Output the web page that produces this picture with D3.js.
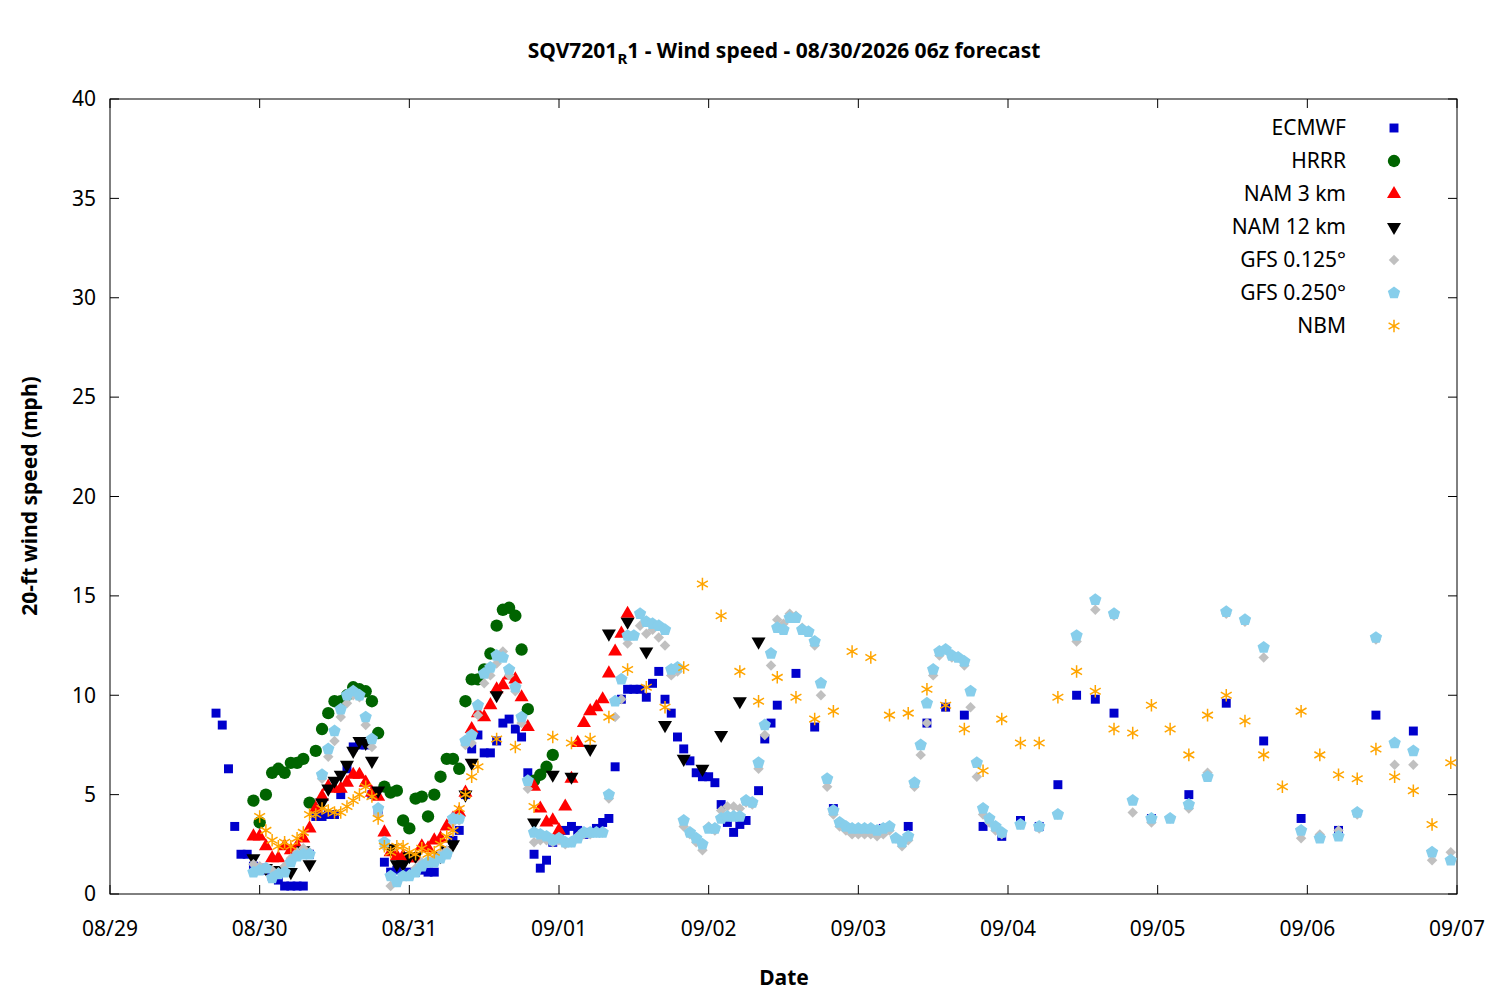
<!DOCTYPE html>
<html>
<head>
<meta charset="utf-8">
<script src="https://cdn.jsdelivr.net/npm/d3@7"></script>
<style>
  body { margin: 0; background: #fff; }
  text { font-family: "Noto Sans", "Open Sans", sans-serif; }
</style>
</head>
<body>
<svg id="chart" width="1500" height="1000"></svg>
<script>
// [hours after 08/29 00z, mph]
const ecmwf = [[17,9.1],[18,8.5],[19,6.3],[20,3.4],[21,2.0],[22,2.0],[23,1.4],[24,1.3],[25,1.2],[26,0.9],[27,0.7],[28,0.4],[29,0.4],[30,0.4],[31,0.4],[32,2.0],[33,3.9],[34,3.9],[35,4.0],[36,4.0],[37,5.0],[38,6.3],[39,7.4],[40,7.5],[41,7.5],[42,5.0],[43,4.2],[44,1.6],[45,1.1],[46,1.2],[47,1.0],[48,1.1],[49,1.1],[50,1.2],[51,1.1],[52,1.1],[53,1.9],[54,2.1],[55,2.7],[56,3.2],[57,5.0],[58,7.3],[59,8.0],[60,7.1],[61,7.1],[62,7.7],[63,8.6],[64,8.8],[65,8.3],[66,7.9],[67,6.1],[68,2.0],[69,1.3],[70,1.7],[71,2.6],[72,2.9],[73,3.2],[74,3.4],[75,3.2],[76,3.0],[77,3.1],[78,3.3],[79,3.6],[80,3.8],[81,6.4],[82,9.8],[83,10.3],[84,10.3],[85,10.3],[86,9.9],[87,10.6],[88,11.2],[89,9.8],[90,9.1],[91,7.9],[92,7.3],[93,6.7],[94,6.1],[95,5.9],[96,5.9],[97,5.6],[98,4.5],[99,3.6],[100,3.1],[101,3.5],[102,3.7],[104,5.2],[105,7.8],[106,8.6],[107,9.5],[110,11.1],[113,8.4],[116,4.3],[120,3.2],[124,3.3],[128,3.4],[131,8.6],[134,9.4],[137,9.0],[140,3.4],[143,2.9],[146,3.7],[149,3.4],[152,5.5],[155,10.0],[158,9.8],[161,9.1],[167,3.8],[173,5.0],[179,9.6],[185,7.7],[191,3.8],[197,3.2],[203,9.0],[209,8.2]];

const hrrr = [[23,4.7],[24,3.6],[25,5.0],[26,6.1],[27,6.3],[28,6.1],[29,6.6],[30,6.6],[31,6.8],[32,4.6],[33,7.2],[34,8.3],[35,9.1],[36,9.7],[37,9.7],[38,10.0],[39,10.4],[40,10.3],[41,10.2],[42,9.7],[43,8.1],[44,5.4],[45,5.1],[46,5.2],[47,3.7],[48,3.3],[49,4.8],[50,4.9],[51,3.9],[52,5.0],[53,5.9],[54,6.8],[55,6.8],[56,6.3],[57,9.7],[58,10.8],[59,10.8],[60,11.3],[61,12.1],[62,13.5],[63,14.3],[64,14.4],[65,14.0],[66,12.3],[67,9.3],[68,5.7],[69,6.0],[70,6.4],[71,7.0]];

const nam3 = [[23,2.9],[24,2.9],[25,2.4],[26,1.8],[27,1.8],[28,2.4],[29,2.2],[30,2.4],[31,2.8],[32,3.3],[33,4.3],[34,4.9],[35,5.4],[36,5.3],[37,5.3],[38,5.6],[39,6.0],[40,6.0],[41,5.6],[42,5.1],[43,4.9],[44,3.1],[45,2.1],[46,1.9],[47,1.9],[48,1.8],[49,1.8],[50,2.4],[51,2.3],[52,2.7],[53,2.8],[54,3.4],[55,3.8],[56,4.1],[57,5.1],[58,8.3],[59,9.1],[60,8.9],[61,9.5],[62,10.3],[63,10.5],[64,11.0],[65,10.8],[66,9.9],[67,8.4],[68,5.4],[69,4.3],[70,3.6],[71,3.7],[72,3.2],[73,4.4],[74,5.8],[75,7.6],[76,8.6],[77,9.2],[78,9.4],[79,9.8],[80,11.1],[81,12.2],[82,13.1],[83,14.1]];

const nam12 = [[23,1.8],[25,1.3],[27,1.2],[29,1.1],[31,2.2],[32,1.5],[34,4.6],[35,5.3],[36,5.7],[37,6.0],[38,6.5],[39,7.2],[40,7.7],[41,7.6],[42,6.7],[43,5.2],[45,2.3],[46,1.5],[47,1.5],[48,1.9],[49,1.9],[53,1.9],[54,2.2],[55,2.5],[57,5.0],[58,6.6],[62,10.0],[68,3.6],[71,6.0],[74,5.9],[77,7.3],[80,13.1],[83,13.7],[86,12.2],[89,8.5],[92,6.8],[95,6.3],[98,8.0],[101,9.7],[104,12.7]];

const gfs125 = [[23,1.5],[24,1.4],[25,1.3],[26,1.2],[27,1.1],[28,1.4],[29,1.8],[30,2.1],[31,2.3],[32,2.1],[34,5.8],[35,6.9],[36,7.7],[37,8.9],[38,9.6],[39,10.0],[40,9.9],[41,8.5],[42,7.4],[43,4.0],[44,2.4],[45,0.4],[46,0.6],[47,0.9],[48,1.0],[49,1.3],[50,1.6],[51,1.7],[52,1.8],[53,2.0],[54,2.2],[55,3.6],[56,3.7],[57,7.5],[58,7.6],[59,9.0],[60,10.6],[61,11.0],[62,11.6],[63,12.2],[64,11.0],[65,10.2],[66,8.6],[67,5.3],[68,2.6],[69,2.7],[70,2.7],[71,2.6],[72,2.7],[73,2.5],[74,2.6],[75,2.9],[76,3.0],[77,3.0],[78,3.1],[79,3.1],[80,4.8],[81,8.9],[82,9.8],[83,12.6],[84,13.0],[85,13.5],[86,13.1],[87,13.3],[88,12.9],[89,12.5],[90,11.0],[91,11.2],[92,3.4],[93,3.0],[94,2.6],[95,2.2],[96,3.4],[97,3.2],[98,4.2],[99,4.4],[100,4.4],[101,4.3],[102,4.6],[103,4.5],[104,6.3],[105,8.0],[106,11.5],[107,13.8],[108,13.6],[109,14.1],[110,14.0],[111,13.4],[112,13.2],[113,12.5],[114,10.0],[115,5.4],[116,4.0],[117,3.4],[118,3.2],[119,3.0],[120,3.0],[121,3.0],[122,3.0],[123,2.9],[124,3.0],[125,3.2],[126,2.8],[127,2.4],[128,2.7],[129,5.4],[130,7.0],[131,8.6],[132,11.0],[133,12.0],[134,12.3],[135,11.9],[136,11.9],[137,11.5],[138,9.4],[139,5.9],[140,4.0],[141,3.6],[142,3.2],[143,3.0],[146,3.5],[149,3.3],[152,4.0],[155,12.7],[158,14.3],[161,14.0],[164,4.1],[167,3.6],[170,3.8],[173,4.3],[176,6.1],[179,14.1],[182,13.7],[185,11.9],[191,2.8],[194,3.0],[197,3.2],[200,4.0],[203,12.8],[206,6.5],[209,6.5],[212,1.7],[215,2.1]];

const gfs025 = [[23,1.1],[24,1.2],[25,1.3],[26,0.8],[27,1.0],[28,1.1],[29,1.6],[30,1.9],[31,2.0],[32,2.0],[34,6.0],[35,7.3],[36,8.2],[37,9.3],[38,10.0],[39,10.2],[40,10.0],[41,8.9],[42,7.8],[43,4.3],[44,2.6],[45,0.9],[46,0.6],[47,0.9],[48,0.9],[49,1.1],[50,1.4],[51,1.6],[52,1.6],[53,1.8],[54,2.0],[55,3.8],[56,3.8],[57,7.7],[58,8.0],[59,9.5],[60,11.1],[61,11.4],[62,12.0],[63,11.9],[64,11.3],[65,10.4],[66,8.9],[67,5.7],[68,3.1],[69,3.0],[70,2.9],[71,2.7],[72,2.8],[73,2.6],[74,2.6],[75,2.8],[76,3.1],[77,3.1],[78,3.1],[79,3.1],[80,5.0],[81,9.7],[82,10.8],[83,13.0],[84,13.0],[85,14.1],[86,13.7],[87,13.6],[88,13.5],[89,13.3],[90,11.3],[91,11.4],[92,3.7],[93,3.1],[94,2.8],[95,2.5],[96,3.3],[97,3.3],[98,3.8],[99,3.9],[100,3.9],[101,3.9],[102,4.7],[103,4.6],[104,6.6],[105,8.5],[106,12.1],[107,13.4],[108,13.3],[109,13.9],[110,13.9],[111,13.3],[112,13.2],[113,12.7],[114,10.6],[115,5.8],[116,4.2],[117,3.6],[118,3.4],[119,3.3],[120,3.3],[121,3.3],[122,3.3],[123,3.2],[124,3.3],[125,3.4],[126,2.8],[127,2.6],[128,2.9],[129,5.6],[130,7.5],[131,9.6],[132,11.3],[133,12.2],[134,12.3],[135,12.0],[136,11.9],[137,11.7],[138,10.2],[139,6.6],[140,4.3],[141,3.8],[142,3.4],[143,3.1],[146,3.5],[149,3.4],[152,4.0],[155,13.0],[158,14.8],[161,14.1],[164,4.7],[167,3.8],[170,3.8],[173,4.5],[176,5.9],[179,14.2],[182,13.8],[185,12.4],[191,3.2],[194,2.8],[197,2.9],[200,4.1],[203,12.9],[206,7.6],[209,7.2],[212,2.1],[215,1.7]];

const nbm = [[24,3.9],[25,3.2],[26,2.7],[27,2.4],[28,2.6],[29,2.4],[30,2.8],[31,3.1],[32,4.0],[33,4.0],[34,4.3],[35,4.2],[36,4.1],[37,4.1],[38,4.4],[39,4.7],[40,5.0],[41,5.4],[42,4.9],[43,3.8],[44,2.4],[45,2.1],[46,2.4],[47,2.4],[48,2.1],[49,2.0],[50,2.3],[51,2.0],[52,2.1],[53,2.5],[54,2.9],[55,3.2],[56,4.3],[57,5.0],[58,5.9],[59,6.4],[62,7.8],[65,7.4],[68,4.4],[71,7.9],[74,7.6],[77,7.8],[80,8.9],[83,11.3],[86,10.4],[89,9.4],[92,11.4],[95,15.6],[98,14.0],[101,11.2],[104,9.7],[107,10.9],[110,9.9],[113,8.8],[116,9.2],[119,12.2],[122,11.9],[125,9.0],[128,9.1],[131,10.3],[134,9.5],[137,8.3],[140,6.2],[143,8.8],[146,7.6],[149,7.6],[152,9.9],[155,11.2],[158,10.2],[161,8.3],[164,8.1],[167,9.5],[170,8.3],[173,7.0],[176,9.0],[179,10.0],[182,8.7],[185,7.0],[188,5.4],[191,9.2],[194,7.0],[197,6.0],[200,5.8],[203,7.3],[206,5.9],[209,5.2],[212,3.5],[215,6.6]];

const yTicks = [0, 5, 10, 15, 20, 25, 30, 35, 40];
const startTime = Date.UTC(2026, 7, 29);

const svg = d3.select('#chart');
const m = {left: 110, right: 1457, top: 99, bottom: 894};

const x = d3.scaleUtc()
    .domain([new Date(startTime), new Date(Date.UTC(2026, 8, 7))])
    .range([m.left, m.right]);
const y = d3.scaleLinear().domain([0, 40]).range([m.bottom, m.top]);
const t = (h) => new Date(startTime + h * 3600e3);

// pentagon symbol (gnuplot pt 15 look-alike)
const pentagon = {
    draw(ctx, size) {
        let r = Math.sqrt(size / 2.378);
        for (let i = 0; i < 5; i++) {
            let a = -Math.PI / 2 + i * 2 * Math.PI / 5;
            if (i === 0) ctx.moveTo(r * Math.cos(a), r * Math.sin(a));
            else ctx.lineTo(r * Math.cos(a), r * Math.sin(a));
        }
        ctx.closePath();
    }
};

const series = [
    {name: 'ECMWF', data: ecmwf, type: d3.symbolSquare, size: 80, color: '#0000cc'},
    {name: 'HRRR', data: hrrr, type: d3.symbolCircle, size: 120, color: '#006400'},
    {name: 'NAM 3 km', data: nam3, type: d3.symbolTriangle, size: 85, color: '#ff0000'},
    {name: 'NAM 12 km', data: nam12, type: d3.symbolTriangle, size: 85, color: '#000000', rot: 180},
    {name: 'GFS 0.125°', data: gfs125, type: d3.symbolDiamond2, size: 70, color: '#c0c0c0'},
    {name: 'GFS 0.250°', data: gfs025, type: pentagon, size: 100, color: '#87ceeb'},
    {name: 'NBM', data: nbm, type: d3.symbolAsterisk, size: 110, color: '#ffa500', stroke: true}
];

// frame
svg.append('rect').attr('x', m.left).attr('y', m.top)
    .attr('width', m.right - m.left).attr('height', m.bottom - m.top)
    .attr('fill', 'none').attr('stroke', '#000').attr('stroke-width', 1);

// y ticks (mirrored, inward)
yTicks.forEach((v) => {
    svg.append('line').attr('x1', m.left).attr('x2', m.left + 9).attr('y1', y(v)).attr('y2', y(v)).attr('stroke', '#000');
    svg.append('line').attr('x1', m.right).attr('x2', m.right - 9).attr('y1', y(v)).attr('y2', y(v)).attr('stroke', '#000');
    svg.append('text').attr('x', m.left - 14).attr('y', y(v)).attr('dy', '0.35em')
        .attr('text-anchor', 'end').attr('font-size', 21).text(v);
});

// x ticks
x.ticks(d3.utcDay.every(1)).forEach((d) => {
    svg.append('line').attr('x1', x(d)).attr('x2', x(d)).attr('y1', m.bottom).attr('y2', m.bottom - 9).attr('stroke', '#000');
    svg.append('line').attr('x1', x(d)).attr('x2', x(d)).attr('y1', m.top).attr('y2', m.top + 9).attr('stroke', '#000');
    svg.append('text').attr('x', x(d)).attr('y', 936).attr('text-anchor', 'middle')
        .attr('font-size', 21).text(d3.utcFormat('%m/%d')(d));
});

// titles
let title = svg.append('text').attr('x', 784).attr('y', 58).attr('text-anchor', 'middle')
    .attr('font-size', 21).attr('font-weight', 'bold');
title.append('tspan').text('SQV7201');
title.append('tspan').attr('font-size', 15).attr('dy', 6).text('R');
title.append('tspan').attr('dy', -6).text('1 - Wind speed - 08/30/2026 06z forecast');

svg.append('text').attr('x', 784).attr('y', 985).attr('text-anchor', 'middle')
    .attr('font-size', 21).attr('font-weight', 'bold').text('Date');
svg.append('text').attr('transform', 'translate(37,496) rotate(-90)').attr('text-anchor', 'middle')
    .attr('font-size', 21).attr('font-weight', 'bold').text('20-ft wind speed (mph)');

function styleSym(sel, s) {
    if (s.stroke) sel.attr('fill', 'none').attr('stroke', s.color).attr('stroke-width', 1.5);
    else sel.attr('fill', s.color);
}

// points
series.forEach((s) => {
    let sym = d3.symbol().type(s.type).size(s.size);
    let g = svg.append('g');
    g.selectAll('path').data(s.data).enter().append('path')
        .attr('d', sym)
        .attr('transform', (d) => `translate(${x(t(d[0]))},${y(d[1])})` + (s.rot ? ` rotate(${s.rot})` : ''))
        .call(styleSym, s);
});

// legend
series.forEach((s, i) => {
    let ly = 128 + i * 33;
    svg.append('text').attr('x', 1346).attr('y', ly).attr('dy', '0.35em')
        .attr('text-anchor', 'end').attr('font-size', 21).text(s.name);
    svg.append('path').attr('d', d3.symbol().type(s.type).size(s.size)())
        .attr('transform', `translate(1394,${ly})` + (s.rot ? ` rotate(${s.rot})` : ''))
        .call(styleSym, s);
});
</script>
</body>
</html>
